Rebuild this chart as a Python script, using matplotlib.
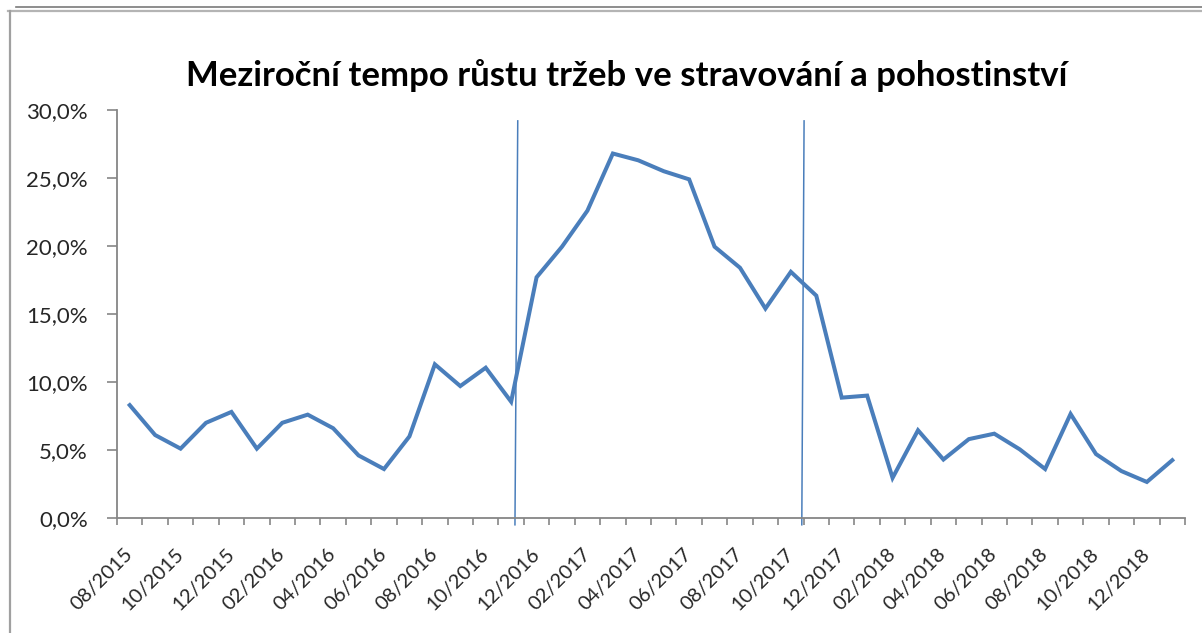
import matplotlib
matplotlib.use("Agg")
import matplotlib.pyplot as plt
from matplotlib.lines import Line2D
from matplotlib.ticker import FuncFormatter
import numpy as np
import pandas as pd

# months 08/2015 .. 01/2019
months = [p.strftime("%m/%Y") for p in pd.period_range("2015-08", "2019-01", freq="M")]
# mezirocni tempo rustu trzeb (%)
growth = [8.3, 6.1, 5.1, 7.0, 7.8, 5.1, 7.0, 7.6, 6.6, 4.6,
          3.6, 6.0, 11.3, 9.7, 11.05, 8.55, 17.7, 19.95, 22.6, 26.8,
          26.3, 25.5, 24.9, 19.95, 18.4, 15.4, 18.1, 16.35, 8.85, 9.0,
          2.95, 6.45, 4.3, 5.8, 6.2, 5.05, 3.6, 7.65, 4.7, 3.45,
          2.65, 4.25]
# vertical marker lines (category position bottom/top)
markers = [(15.15, 15.26), (26.43, 26.52)]

title = "Meziroční tempo růstu tržeb ve stravování a pohostinství"

plt.rcParams['font.family'] = ['Lato', 'DejaVu Sans']

fig = plt.figure(figsize=(12.02, 6.33), dpi=100)
ax = fig.add_axes([117/1202, 1 - 518/633, (1185-117)/1202, (518-110)/633])

x = np.arange(len(months))
ax.plot(x, growth, color='#4a7ebb', lw=2.9, solid_joinstyle='miter', zorder=3)

for xb, xt in markers:
    ax.plot([xb, xt], [-0.5, 29.2], color='#4a7ebb', lw=1.1, clip_on=False, zorder=2)

ax.set_xlim(-0.5, len(months) - 0.5)
ax.set_ylim(0, 30)
ax.set_yticks(np.arange(0, 30.1, 5))
ax.yaxis.set_major_formatter(FuncFormatter(lambda v, p: f"{v:.1f}".replace('.', ',') + '%'))

ax.set_xticks(x[::2])
ax.set_xticklabels(months[::2], rotation=45, ha='right', va='center', rotation_mode='anchor')
ax.set_xticks(np.arange(-0.5, len(months), 1), minor=True)
ax.tick_params(axis='x', which='major', length=0, pad=24, labelsize=14.5, labelcolor='#262626')
ax.tick_params(axis='x', which='minor', length=5, width=1.2, color='#868686', direction='out')
ax.tick_params(axis='y', length=7, width=1.2, color='#868686', labelsize=16, labelcolor='#262626', pad=14)

for s in ['top', 'right']:
    ax.spines[s].set_visible(False)
for s in ['left', 'bottom']:
    ax.spines[s].set_color('#868686')
    ax.spines[s].set_linewidth(1.3)

fig.text(627/1202, 1 - 76/633, title, ha='center', va='center', fontsize=25, fontweight='bold', color='black')

# chart area border (cropped)
fig.add_artist(Line2D([16/1202, 1], [1 - 6.5/633, 1 - 6.5/633], color='#7a7a7a', lw=1.2))
fig.add_artist(Line2D([8/1202, 1], [1 - 11/633, 1 - 11/633], color='#b4b4b4', lw=1.6))
fig.add_artist(Line2D([9.5/1202, 9.5/1202], [0, 1 - 11/633], color='#a0a0a0', lw=1.6))

fig.savefig("out.png", dpi=100)
